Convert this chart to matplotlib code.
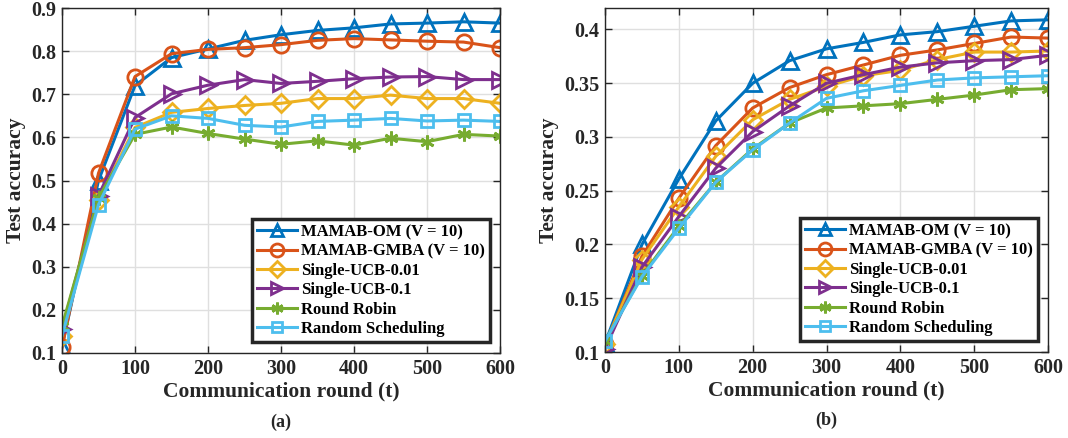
import matplotlib
matplotlib.use("Agg")
import matplotlib.pyplot as plt

plt.rcParams['font.family'] = ['Liberation Serif', 'DejaVu Serif']
plt.rcParams['font.weight'] = 'bold'

t = [0, 50, 100, 150, 200, 250, 300, 350, 400, 450, 500, 550, 600]

labels = ["MAMAB-OM (V = 10)", "MAMAB-GMBA (V = 10)", "Single-UCB-0.01",
          "Single-UCB-0.1", "Round Robin", "Random Scheduling"]

# (a)
a_om = [0.115, 0.500, 0.720, 0.785, 0.805, 0.825, 0.838, 0.848, 0.854, 0.863, 0.865, 0.868, 0.865]
a_gmba = [0.113, 0.517, 0.741, 0.794, 0.804, 0.808, 0.815, 0.825, 0.829, 0.826, 0.823, 0.821, 0.808]
a_ucb001 = [0.140, 0.455, 0.623, 0.658, 0.667, 0.674, 0.679, 0.690, 0.690, 0.698, 0.690, 0.690, 0.679]
a_ucb01 = [0.155, 0.465, 0.646, 0.701, 0.721, 0.734, 0.725, 0.730, 0.736, 0.740, 0.741, 0.734, 0.734]
a_rr = [0.162, 0.460, 0.607, 0.624, 0.609, 0.596, 0.584, 0.592, 0.582, 0.598, 0.590, 0.607, 0.603]
a_rs = [0.140, 0.444, 0.619, 0.650, 0.644, 0.628, 0.624, 0.637, 0.640, 0.644, 0.638, 0.640, 0.637]

# (b)
b_om = [0.108, 0.200, 0.261, 0.315, 0.350, 0.371, 0.382, 0.388, 0.395, 0.398, 0.403, 0.408, 0.409]
b_gmba = [0.107, 0.189, 0.243, 0.292, 0.327, 0.346, 0.358, 0.367, 0.376, 0.381, 0.387, 0.393, 0.392]
b_ucb001 = [0.107, 0.186, 0.235, 0.282, 0.316, 0.335, 0.347, 0.357, 0.362, 0.372, 0.379, 0.379, 0.380]
b_ucb01 = [0.103, 0.179, 0.226, 0.271, 0.305, 0.329, 0.350, 0.358, 0.365, 0.369, 0.371, 0.372, 0.376]
b_rr = [0.110, 0.171, 0.217, 0.258, 0.289, 0.313, 0.327, 0.329, 0.331, 0.335, 0.339, 0.344, 0.345]
b_rs = [0.110, 0.170, 0.215, 0.258, 0.288, 0.313, 0.336, 0.343, 0.348, 0.353, 0.355, 0.356, 0.357]

colors = ['#0072BD', '#D95319', '#EDB120', '#7E2F8E', '#77AC30', '#4DBEEE']
markers = ['^', 'o', 'D', '>', (6, 2, 0), 's']
msizes = [11, 11, 9, 11, 10, 8]

fig = plt.figure(figsize=(10.68, 4.38), dpi=100)
ax1 = fig.add_axes([62/1068, 1-353/438, 438/1068, 345/438])
ax2 = fig.add_axes([605/1068, 1-352/438, 443/1068, 344/438])

def draw(ax, series, ylim, yticks, ylabs, sub):
    for y, c, m, ms, lab in zip(series, colors, markers, msizes, labels):
        ax.plot(t, y, color=c, marker=m, markersize=ms, markerfacecolor='none',
                markeredgecolor=c, markeredgewidth=2, linewidth=2.2, label=lab)
    ax.set_xlim(0, 600)
    ax.set_ylim(*ylim)
    ax.set_xticks([0, 100, 200, 300, 400, 500, 600])
    ax.set_xticklabels(['0', '100', '200', '300', '400', '500', '600'])
    ax.set_yticks(yticks)
    ax.set_yticklabels(ylabs)
    ax.grid(True, color='#DFDFDF', linewidth=1.0)
    ax.set_axisbelow(True)
    ax.tick_params(direction='in', top=True, right=True, labelsize=14.5,
                   color='#262626', length=5, width=1, pad=4)
    for s in ax.spines.values():
        s.set_color('#262626')
        s.set_linewidth(1.0)
    for lab in ax.get_xticklabels() + ax.get_yticklabels():
        lab.set_fontweight('bold')
        lab.set_fontfamily(['Liberation Serif', 'DejaVu Serif'])
        lab.set_color('#262626')
    ax.set_xlabel('Communication round (t)', fontsize=15.5, fontweight='bold',
                  color='#262626', labelpad=2)
    ax.set_ylabel('Test accuracy', fontsize=15.5, fontweight='bold', color='#262626',
                  labelpad=4)
    ax.text(0.5, -0.2, sub, transform=ax.transAxes, ha='center', va='center',
            fontsize=13, fontweight='bold', color='#262626')
    leg = ax.legend(loc='lower right', bbox_to_anchor=(0.977, 0.032),
                    prop={'weight': 'bold', 'size': 12}, frameon=True, fancybox=False,
                    handlelength=2.4, handletextpad=0.25, labelspacing=0.2,
                    borderpad=0.3, borderaxespad=0.0, framealpha=1)
    leg.get_frame().set_edgecolor('#262626')
    leg.get_frame().set_linewidth(2.5)
    for h in leg.get_lines():
        h.set_markersize(h.get_markersize() * 0.85)

draw(ax1, [a_om, a_gmba, a_ucb001, a_ucb01, a_rr, a_rs], (0.1, 0.9),
     [0.1, 0.2, 0.3, 0.4, 0.5, 0.6, 0.7, 0.8, 0.9],
     ['0.1', '0.2', '0.3', '0.4', '0.5', '0.6', '0.7', '0.8', '0.9'], '(a)')
draw(ax2, [b_om, b_gmba, b_ucb001, b_ucb01, b_rr, b_rs], (0.1, 0.42),
     [0.1, 0.15, 0.2, 0.25, 0.3, 0.35, 0.4],
     ['0.1', '0.15', '0.2', '0.25', '0.3', '0.35', '0.4'], '(b)')

fig.savefig('out.png', dpi=100)
